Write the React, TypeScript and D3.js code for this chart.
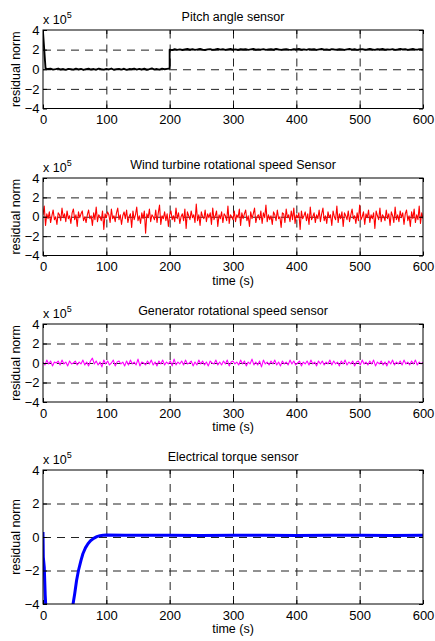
import React, { useRef, useEffect } from "react";
import * as d3 from "d3";

// residual norms, in units of 1e5
const xTicks = [0, 100, 200, 300, 400, 500, 600];
const yTicks = [-4, -2, 0, 2, 4];

const PITCH_STEP = 4;
const pitchBefore = [
  3.8, 0.08, 0.02, 0.05, -0.04, 0.01, 0.07, -0.03, 0.02, -0.06,
  0.04, 0.0, -0.04, 0.06, -0.02, 0.03, -0.07, 0.01, 0.05, -0.03,
  0.02, -0.05, 0.06, 0.0, -0.04, 0.03, -0.02, 0.07, -0.05, 0.01,
  0.04, -0.03, 0.05, -0.06, 0.02, 0.0, 0.06, -0.04, 0.03, -0.02,
  0.05, -0.05, 0.01, 0.08, -0.03, 0.02, -0.04, 0.06, 0.0, 0.04,
  0.08,
];
const pitchAfter = [
  2.0, 1.95, 2.05, 1.98, 2.03, 1.96, 2.02, 2.06, 1.99, 2.04,
  1.97, 2.02, 2.08, 2.0, 1.96, 2.03, 2.05, 1.98, 2.01, 2.06,
  2.0, 2.04, 1.97, 2.02, 2.07, 1.99, 2.03, 1.96, 2.05, 2.01,
  2.04, 1.98, 2.02, 2.06, 1.99, 2.03, 2.0, 2.05, 1.97, 2.02,
  2.04, 1.99, 2.06, 2.01, 1.98, 2.03, 2.05, 2.0, 1.97, 2.04,
  2.02, 2.07, 1.99, 2.03, 1.98, 2.05, 2.01, 2.04, 1.97, 2.02,
  2.06, 2.0, 2.03, 1.98, 2.05, 2.01, 1.99, 2.04, 2.02, 1.97,
  2.03, 2.06, 2.0, 2.04, 1.98, 2.02, 2.05, 1.99, 2.03, 2.08,
  2.01, 1.97, 2.04, 2.02, 2.06, 1.99, 2.03, 2.0, 2.05, 1.98,
  2.02, 2.07, 2.01, 2.04, 1.98, 2.03, 2.06, 2.0, 2.02, 2.05,
  2.03,
];

const WIND_STEP = 2;
const windSpeed = [
  0.2, 1.1, -0.9, 0.3, -0.2, 0.5, -0.6, 0.1, 0.7, -0.3, 0.0, -0.8, 0.4, 0.2, -0.4, 0.9, -0.1, 0.3, -0.5, 0.6,
  -0.2, 0.1, -0.7, 0.4, 0.8, -0.3, 0.2, -1.0, 0.5, -0.1, 0.3, 0.6, -0.4, 0.0, -0.6, 0.2, 0.7, -0.2, 0.1, -0.9,
  0.4, -0.3, 1.0, -0.5, 0.2, 0.0, -0.4, 0.6, -1.3, 0.3, -0.1, 0.5, 0.2, -0.6, 0.8, -0.2, 0.1, -0.5, 0.4, 0.9,
  -0.3, 0.2, -0.8, 0.1, 0.5, -0.2, 0.7, -0.6, 0.0, 0.3, -1.1, 0.6, -0.3, 0.2, 1.0, -0.4, 0.1, -0.7, 0.4, -0.2,
  0.6, -1.7, 0.3, -0.1, 0.8, -0.5, 0.2, 0.0, -0.3, 0.7, -0.6, 0.4, 1.2, -0.8, 0.1, -0.2, 0.5, -0.4, 0.3, -1.0,
  0.2, 0.6, -0.3, 0.1, -0.5, 0.9, -0.2, 0.4, -0.7, 0.0, 0.3, -0.4, 0.8, -1.2, 0.5, 0.1, -0.3, 0.6, -0.1, 0.2,
  -0.6, 1.3, -0.4, 0.2, -0.9, 0.5, 0.0, -0.2, 0.7, -0.5, 0.3, -0.1, 0.4, -0.8, 0.9, -0.3, 0.1, 0.6, -1.0, 0.2,
  -0.2, 0.5, -0.6, 0.3, 0.1, -0.4, 1.1, -0.7, 0.2, 0.0, -0.3, 0.6, -0.5, 0.2, -0.1, 0.8, -0.9, 0.4, -0.2, 0.3,
  0.7, -0.4, 0.1, -1.0, 0.5, -0.2, 0.3, 0.9, -0.6, 0.0, 0.2, -0.3, 0.6, -0.7, 0.4, -0.1, 1.2, -0.5, 0.2, -0.3,
  0.1, -0.8, 0.5, 0.2, -0.4, 0.7, -0.2, 0.0, -1.1, 0.4, 0.3, -0.6, 0.8, -0.1, 0.2, -0.5, 0.6, -0.3, 0.9, -0.7,
  0.2, -0.1, 0.4, -1.3, 0.6, -0.2, 0.1, 0.5, -0.4, 0.3, -0.8, 1.0, -0.3, 0.0, 0.4, -0.6, 0.2, -0.2, 0.7, -0.5,
  0.3, 0.9, -0.4, 0.1, -0.7, 0.5, -0.1, 0.2, -0.9, 0.6, 0.0, -0.3, 1.1, -0.6, 0.3, -0.2, 0.5, -1.0, 0.4, 0.1,
  -0.3, 0.6, -0.5, 0.2, 0.8, -0.2, 0.1, -0.7, 0.4, -0.4, 1.2, -0.3, 0.0, 0.5, -0.8, 0.3, -0.1, 0.7, -0.6, 0.2,
  -0.2, 0.4, -1.2, 0.6, 0.1, -0.3, 0.9, -0.5, 0.2, 0.0, -0.4, 0.7, -0.2, 0.3, -0.9, 0.5, 0.1, -0.6, 1.0, -0.3,
  0.2, -0.5, 0.6, -0.1, 0.4, -0.8, 0.3, 0.7, -0.4, 0.1, -1.0, 0.5, -0.2, 0.8, -0.6, 0.2, -0.3, 1.1, -0.7, 0.4,
  -0.2,
];

const GEN_STEP = 3;
const generatorSpeed = [
  0.1, -0.2, 0.3, -0.1, 0.2, -0.3, 0.1, 0.0, 0.2, -0.2, 0.3, -0.1, 0.1, -0.3, 0.2, -0.1, 0.0, 0.2, -0.2, 0.1,
  -0.1, 0.3, -0.2, 0.1, -0.3, 0.2, 0.5, -0.1, 0.2, -0.2, 0.1, -0.4, 0.3, -0.1, 0.2, -0.2, 0.0, 0.3, -0.3, 0.1,
  0.2, -0.1, 0.1, -0.3, 0.2, -0.2, 0.3, -0.1, 0.1, -0.2, 0.4, -0.3, 0.1, 0.0, -0.2, 0.2, -0.1, 0.3, -0.2, 0.1,
  -0.3, 0.2, -0.1, 0.3, -0.2, 0.1, -0.1, 0.2, -0.3, 0.4, -0.2, 0.1, -0.1, 0.2, -0.2, 0.3, -0.1, 0.0, 0.2, -0.3,
  0.1, -0.2, 0.3, -0.1, 0.2, -0.2, 0.1, -0.3, 0.2, 0.0, -0.1, 0.3, -0.2, 0.1, -0.2, 0.2, -0.1, 0.3, -0.3, 0.1,
  0.2, -0.1, 0.1, -0.2, 0.3, -0.1, 0.2, -0.3, 0.1, -0.1, 0.4, -0.2, 0.1, -0.2, 0.2, -0.4, 0.3, -0.1, 0.1, -0.2,
  0.2, -0.1, 0.3, -0.2, 0.1, -0.3, 0.2, -0.1, 0.1, -0.2, 0.3, -0.1, 0.2, -0.2, 0.0, 0.2, -0.3, 0.1, -0.1, 0.2,
  -0.2, 0.3, -0.1, 0.1, -0.3, 0.2, -0.1, 0.2, -0.2, 0.1, -0.1, 0.3, -0.2, 0.2, -0.1, 0.1, -0.3, 0.2, -0.1, 0.3,
  -0.2, 0.1, -0.1, 0.2, -0.3, 0.1, 0.2, -0.2, 0.3, -0.1, 0.1, -0.2, 0.2, -0.1, 0.3, -0.3, 0.1, -0.1, 0.2, -0.2,
  0.1, -0.3, 0.2, -0.1, 0.3, -0.2, 0.1, -0.1, 0.2, -0.2, 0.3, -0.1, 0.1, -0.2, 0.2, -0.1, 0.3, -0.2, 0.1, -0.1,
  0.1,
];

const torqueTime = [
  0, 0.5, 2, 3.5, 4.5, 8, 20, 35, 44, 47, 50, 53, 56, 60, 63, 67, 71, 75, 80, 85, 90, 95, 100,
  130, 160, 200, 250, 300, 350, 400, 450, 500, 550, 600,
];
const torqueValues = [
  0.3, -1.2, -1.8, -3.5, -4.2, -7, -12, -9, -5, -4.1, -3.4, -2.6, -2.0, -1.4, -1.0, -0.65, -0.4, -0.22, -0.08, 0.02, 0.08, 0.11, 0.12,
  0.11, 0.1, 0.1, 0.09, 0.1, 0.1, 0.09, 0.1, 0.1, 0.09, 0.1,
];

const FONT = "'Liberation Sans', Arial, Helvetica, sans-serif";
const X0 = 43;
const X1 = 423;

const panels = [
  { title: "Pitch angle sensor", top: 30, bottom: 108.5, color: "#000000", lw: 1.9, xlabel: false },
  { title: "Wind turbine rotational speed Sensor", top: 178, bottom: 255.5, color: "#ff0000", lw: 1.1, xlabel: true },
  { title: "Generator rotational speed sensor", top: 324, bottom: 402, color: "#ff00ff", lw: 1.1, xlabel: true },
  { title: "Electrical torque sensor", top: 470, bottom: 604, color: "#0000ff", lw: 3, xlabel: true },
];

const seriesPoints = () => [
  [
    ...pitchBefore.map((v, i) => [i * PITCH_STEP, v]),
    ...pitchAfter.map((v, i) => [200 + i * PITCH_STEP, v]),
  ],
  windSpeed.map((v, i) => [i * WIND_STEP, v]),
  generatorSpeed.map((v, i) => [i * GEN_STEP, v]),
  torqueTime.map((t, i) => [t, torqueValues[i]]),
];

const styleAxis = (g) => {
  g.select(".domain").remove();
  g.selectAll("line").attr("stroke", "#000");
  g.selectAll("text")
    .attr("font-family", FONT)
    .attr("font-size", 13)
    .attr("fill", "#000");
};

const Chart = () => {
  const svgRef = useRef(null);

  useEffect(() => {
    const svg = d3.select(svgRef.current);
    svg.selectAll("*").remove();
    const data = seriesPoints();

    panels.forEach((p, k) => {
      const x = d3.scaleLinear().domain([0, 600]).range([X0, X1]);
      const y = d3.scaleLinear().domain([-4, 4]).range([p.bottom, p.top]);
      const h = p.bottom - p.top;
      const g = svg.append("g");

      // dashed grid
      const vg = g.append("g")
        .attr("transform", `translate(0, ${p.bottom})`)
        .call(d3.axisBottom(x).tickValues(xTicks.slice(1, -1)).tickSize(-h).tickFormat(""));
      vg.select(".domain").remove();
      vg.selectAll("line").attr("stroke", "#222").attr("stroke-dasharray", "8 6");

      const hg = g.append("g")
        .attr("transform", `translate(${X0}, 0)`)
        .call(d3.axisLeft(y).tickValues(yTicks.slice(1, -1)).tickSize(-(X1 - X0)).tickFormat(""));
      hg.select(".domain").remove();
      hg.selectAll("line").attr("stroke", "#222").attr("stroke-dasharray", "8 6");

      // data line
      const clipId = `clip-${k}`;
      g.append("clipPath").attr("id", clipId)
        .append("rect")
        .attr("x", X0).attr("y", p.top)
        .attr("width", X1 - X0).attr("height", h);

      const line = d3.line().x(d => x(d[0])).y(d => y(d[1]));
      g.append("path")
        .datum(data[k])
        .attr("clip-path", `url(#${clipId})`)
        .attr("fill", "none")
        .attr("stroke", p.color)
        .attr("stroke-width", p.lw)
        .attr("stroke-linejoin", "round")
        .attr("d", line);

      // inward ticks on all sides + labels
      g.append("g")
        .attr("transform", `translate(0, ${p.bottom})`)
        .call(d3.axisBottom(x).tickValues(xTicks).tickSize(-4).tickPadding(6.5))
        .call(styleAxis);
      g.append("g")
        .attr("transform", `translate(0, ${p.top})`)
        .call(d3.axisTop(x).tickValues(xTicks).tickSize(-4).tickFormat(""))
        .call(styleAxis);
      g.append("g")
        .attr("transform", `translate(${X0}, 0)`)
        .call(d3.axisLeft(y).tickValues(yTicks).tickSize(-4).tickPadding(3.5))
        .call(styleAxis);
      g.append("g")
        .attr("transform", `translate(${X1}, 0)`)
        .call(d3.axisRight(y).tickValues(yTicks).tickSize(-4).tickFormat(""))
        .call(styleAxis);

      // box
      g.append("rect")
        .attr("x", X0).attr("y", p.top)
        .attr("width", X1 - X0).attr("height", h)
        .attr("fill", "none").attr("stroke", "#000").attr("stroke-width", 1);

      // title
      g.append("text")
        .attr("x", (X0 + X1) / 2).attr("y", p.top - 9)
        .attr("text-anchor", "middle")
        .attr("font-family", FONT).attr("font-size", 12.5)
        .text(p.title);

      // exponent
      const ex = g.append("text")
        .attr("x", X0).attr("y", p.top - 6)
        .attr("font-family", FONT).attr("font-size", 12.5);
      ex.append("tspan").text("x 10");
      ex.append("tspan").attr("dy", -6).attr("font-size", 9).text("5");

      // y label
      g.append("text")
        .attr("transform", `translate(20, ${(p.top + p.bottom) / 2}) rotate(-90)`)
        .attr("text-anchor", "middle")
        .attr("font-family", FONT).attr("font-size", 12.5)
        .text("residual norm");

      if (p.xlabel) {
        g.append("text")
          .attr("x", (X0 + X1) / 2).attr("y", p.bottom + 29)
          .attr("text-anchor", "middle")
          .attr("font-family", FONT).attr("font-size", 12.5)
          .text("time (s)");
      }
    });
  }, []);

  return (
    <svg
      ref={svgRef}
      width={435}
      height={641}
      style={{ position: "absolute", left: 0, top: 0, background: "#fff" }}
    ></svg>
  );
};

export default function App() {
  return <Chart />;
}
